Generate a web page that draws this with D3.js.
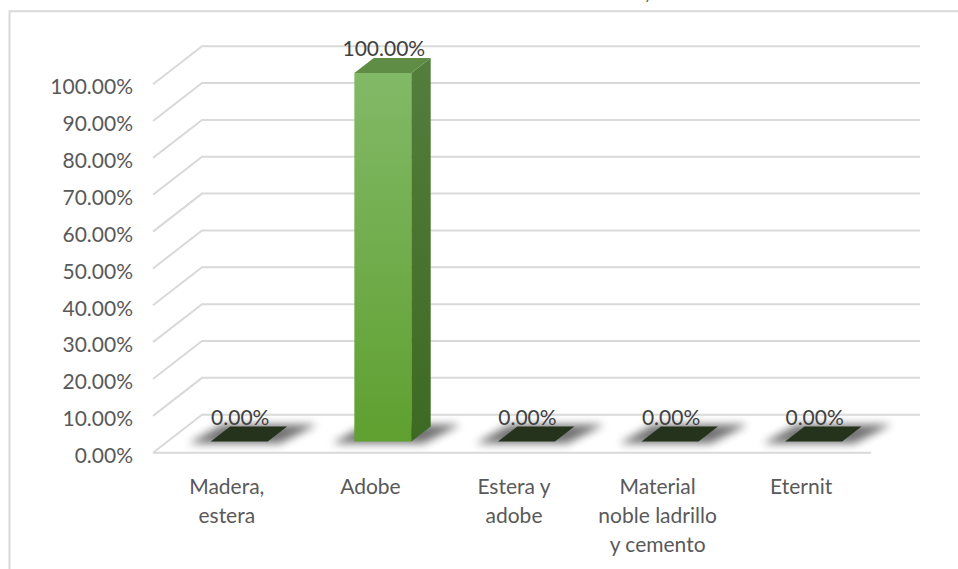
<!DOCTYPE html>
<html><head><meta charset="utf-8">
<script src="https://cdn.jsdelivr.net/npm/d3@7"></script>
<style>html,body{margin:0;padding:0;background:#fff;overflow:hidden}</style>
</head><body>
<svg id="chart" width="958" height="569"></svg>
<script>
// ---- data ----
const categories = ["Madera, estera", "Adobe", "Estera y adobe", "Material noble ladrillo y cemento", "Eternit"];
const categoryLines = [["Madera,", "estera"], ["Adobe"], ["Estera y", "adobe"], ["Material", "noble ladrillo", "y cemento"], ["Eternit"]];
const values = [0, 1, 0, 0, 0];
const tickValues = [0, 0.1, 0.2, 0.3, 0.4, 0.5, 0.6, 0.7, 0.8, 0.9, 1.0];

// ---- layout ----
const svg = d3.select("#chart");
const FONT = "Lato, 'Open Sans', sans-serif";
const depthX = 49, depthY = -38;          // wall depth
const barFrac0 = 0.295, barFrac1 = 0.69;  // bar depth position (fraction of floor)
const fmt = d3.format(".2%");

const x = d3.scaleBand().domain(categories).range([153, 871]).paddingInner(0).paddingOuter(0);
const yFront = d3.scaleLinear().domain([0, 1]).range([452.7, 84.2]);
const barW = 57;

// frame
svg.append("path").attr("d", "M9.5,569 V11.3 H958")
  .attr("fill", "none").attr("stroke", "#d9d9d9").attr("stroke-width", 2);
// clipped title fragment
svg.append("text").attr("x", 645).attr("y", -1).text(",")
  .attr("font-family", FONT).attr("font-size", 23).attr("fill", "#404040");

// defs
const defs = svg.append("defs");
const fg = defs.append("linearGradient").attr("id", "gFront").attr("x1", 0).attr("y1", 0).attr("x2", 0).attr("y2", 1);
fg.append("stop").attr("offset", "0%").attr("stop-color", "#82b967");
fg.append("stop").attr("offset", "100%").attr("stop-color", "#5fa030");
const sg = defs.append("linearGradient").attr("id", "gSide").attr("x1", 0).attr("y1", 0).attr("x2", 0).attr("y2", 1);
sg.append("stop").attr("offset", "0%").attr("stop-color", "#537e3c");
sg.append("stop").attr("offset", "100%").attr("stop-color", "#3d6a22");
const blur = defs.append("filter").attr("id", "blur").attr("x", "-50%").attr("y", "-100%").attr("width", "200%").attr("height", "300%");
blur.append("feGaussianBlur").attr("stdDeviation", 4);

// gridlines: back wall + left side wall
const grid = svg.append("g").attr("stroke", "#d9d9d9").attr("stroke-width", 2).attr("fill", "none");
tickValues.forEach(t => {
  const yf = yFront(t);
  grid.append("path").attr("d",
    `M${x.range()[0]},${yf} L${x.range()[0] + depthX},${yf + depthY} H${x.range()[1] + depthX}`);
});
// floor front edge
grid.append("path").attr("d", `M${x.range()[0]},${yFront(0)} H${x.range()[1]}`);

// y axis labels
const yAxis = d3.axisLeft(yFront).tickValues(tickValues).tickFormat(fmt).tickSize(0).tickPadding(20);
const ya = svg.append("g").attr("transform", `translate(${x.range()[0]},3)`).call(yAxis);
ya.select(".domain").remove();
ya.selectAll("text").attr("font-family", FONT).attr("font-size", 21).attr("fill", "#595959");

// bars
const floorY0 = yFront(0);
const bx = d => x(categories[d.i]) + x.bandwidth() / 2 + barFrac0 * depthX - barW / 2;
const bBottom = floorY0 + barFrac0 * depthY;
const bDepthX = (barFrac1 - barFrac0) * depthX, bDepthY = (barFrac1 - barFrac0) * depthY;
const hScale = d3.scaleLinear().domain([0, 1]).range([0, yFront(0) - yFront(1)]);
const data = values.map((v, i) => ({ v, i }));

const gBars = svg.append("g");
data.forEach(d => {
  const x0 = bx(d), x1 = x0 + barW;
  const yTop = bBottom - hScale(d.v);
  // floor shadow
  gBars.append("path")
    .attr("d", `M${x0 - 22},${bBottom + 2} L${x1 + 12},${bBottom + 2} L${x1 + bDepthX + 30},${bBottom + bDepthY - 2} L${x0 + bDepthX - 8},${bBottom + bDepthY - 2}Z`)
    .attr("fill", "#000").attr("opacity", 0.55).attr("filter", "url(#blur)");
  if (d.v > 0) {
    // front
    gBars.append("rect").attr("x", x0).attr("y", yTop).attr("width", barW).attr("height", bBottom - yTop)
      .attr("fill", "url(#gFront)");
    // side
    gBars.append("path")
      .attr("d", `M${x1},${yTop} L${x1 + bDepthX},${yTop + bDepthY} L${x1 + bDepthX},${bBottom + bDepthY} L${x1},${bBottom}Z`)
      .attr("fill", "url(#gSide)");
    // top
    gBars.append("path")
      .attr("d", `M${x0},${yTop} L${x1},${yTop} L${x1 + bDepthX},${yTop + bDepthY} L${x0 + bDepthX},${yTop + bDepthY}Z`)
      .attr("fill", "#5f8d45");
  } else {
    gBars.append("path")
      .attr("d", `M${x0},${yTop} L${x1},${yTop} L${x1 + bDepthX},${yTop + bDepthY} L${x0 + bDepthX},${yTop + bDepthY}Z`)
      .attr("fill", "#26331c");
  }
});

// data labels
svg.append("g").selectAll("text").data(data).join("text")
  .attr("x", d => bx(d) + barW / 2 + 1)
  .attr("y", d => bBottom - hScale(d.v) - 24)
  .attr("dy", "0.35em")
  .attr("text-anchor", "middle")
  .attr("font-family", FONT).attr("font-size", 21).attr("fill", "#404040")
  .text(d => fmt(d.v));

// category labels
const gc = svg.append("g");
categories.forEach((c, i) => {
  const t = gc.append("text")
    .attr("x", x(c) + x.bandwidth() / 2 + 2)
    .attr("y", 487)
    .attr("text-anchor", "middle")
    .attr("font-family", FONT).attr("font-size", 21).attr("fill", "#595959");
  categoryLines[i].forEach((line, k) => {
    t.append("tspan").attr("x", x(c) + x.bandwidth() / 2 + 2).attr("y", 487 + k * 29).attr("dy", "0.35em").text(line);
  });
});
</script>
</body></html>
